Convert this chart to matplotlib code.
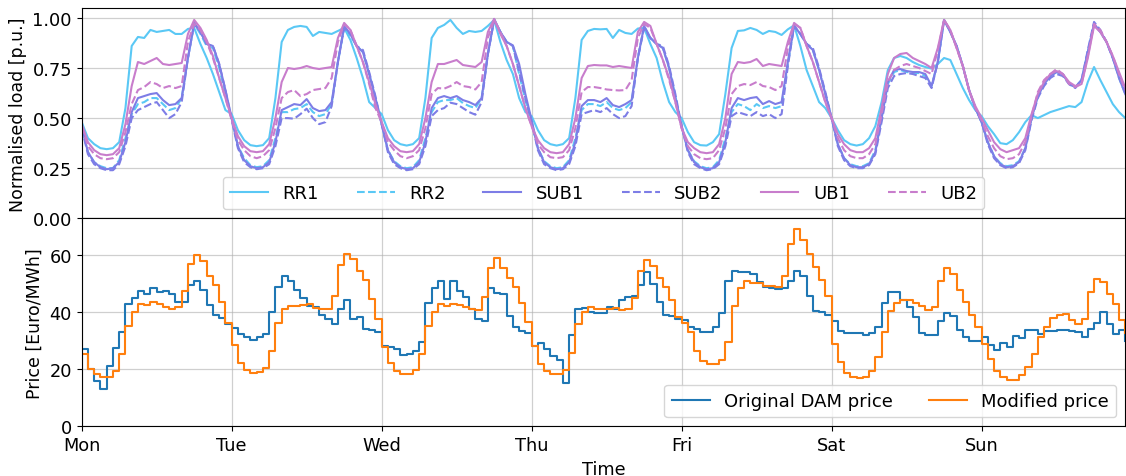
import numpy as np
import matplotlib
matplotlib.use("Agg")
import matplotlib.pyplot as plt

# ---------------- data ----------------
day_labels = ["Mon", "Tue", "Wed", "Thu", "Fri", "Sat", "Sun"]
hours = np.arange(168)

rr1 = [
    0.48,0.40,0.37,0.35,0.345,0.35,0.38,0.55,0.86,0.905,0.90,0.94,0.93,0.935,0.94,0.92,0.92,0.945,0.95,0.87,0.80,0.72,0.63,0.54,
    0.52,0.44,0.39,0.365,0.36,0.365,0.40,0.60,0.88,0.94,0.955,0.96,0.955,0.91,0.93,0.925,0.92,0.935,0.95,0.89,0.80,0.70,0.58,0.55,
    0.52,0.44,0.39,0.37,0.363,0.37,0.40,0.60,0.90,0.95,0.965,0.99,0.95,0.92,0.935,0.93,0.935,0.96,0.99,0.88,0.79,0.72,0.60,0.53,
    0.51,0.44,0.39,0.37,0.363,0.37,0.40,0.60,0.89,0.935,0.945,0.943,0.945,0.90,0.94,0.925,0.92,0.947,0.95,0.87,0.80,0.68,0.58,0.53,
    0.50,0.43,0.38,0.365,0.363,0.38,0.42,0.62,0.85,0.935,0.938,0.95,0.94,0.92,0.935,0.93,0.915,0.943,0.963,0.86,0.74,0.66,0.58,0.55,
    0.50,0.44,0.39,0.37,0.363,0.37,0.40,0.46,0.58,0.74,0.80,0.81,0.80,0.78,0.765,0.755,0.747,0.77,0.80,0.79,0.72,0.65,0.59,0.54,
    0.51,0.46,0.42,0.375,0.37,0.39,0.43,0.48,0.515,0.50,0.515,0.53,0.54,0.55,0.56,0.555,0.58,0.68,0.755,0.69,0.63,0.57,0.53,0.50,
]
rr2 = [
    0.46,0.33,0.28,0.26,0.25,0.25,0.29,0.40,0.52,0.57,0.58,0.60,0.60,0.57,0.54,0.55,0.60,0.80,0.97,0.92,0.86,0.85,0.75,0.62,
    0.50,0.36,0.30,0.265,0.255,0.26,0.29,0.40,0.53,0.53,0.545,0.55,0.57,0.53,0.51,0.52,0.57,0.78,0.95,0.91,0.86,0.83,0.72,0.60,
    0.47,0.34,0.285,0.26,0.25,0.255,0.29,0.40,0.53,0.58,0.59,0.59,0.60,0.575,0.56,0.55,0.60,0.82,0.99,0.93,0.88,0.86,0.72,0.59,
    0.48,0.35,0.285,0.26,0.25,0.255,0.29,0.40,0.54,0.57,0.57,0.56,0.58,0.55,0.54,0.55,0.58,0.80,0.96,0.90,0.87,0.85,0.75,0.61,
    0.46,0.34,0.285,0.26,0.25,0.255,0.29,0.40,0.53,0.57,0.56,0.54,0.57,0.55,0.56,0.55,0.56,0.77,0.96,0.92,0.87,0.84,0.74,0.62,
    0.50,0.37,0.30,0.27,0.26,0.26,0.275,0.34,0.50,0.67,0.73,0.74,0.73,0.725,0.725,0.71,0.66,0.78,0.99,0.93,0.86,0.76,0.64,0.55,
    0.48,0.38,0.31,0.275,0.26,0.265,0.285,0.35,0.50,0.61,0.67,0.71,0.73,0.72,0.67,0.655,0.69,0.83,0.97,0.93,0.88,0.80,0.70,0.62,
]
sub1 = [
    0.46,0.33,0.28,0.255,0.245,0.25,0.28,0.38,0.53,0.60,0.61,0.62,0.625,0.59,0.565,0.57,0.60,0.80,0.975,0.93,0.87,0.86,0.77,0.64,
    0.50,0.36,0.29,0.26,0.25,0.255,0.28,0.38,0.54,0.555,0.57,0.565,0.595,0.55,0.535,0.54,0.58,0.78,0.96,0.92,0.86,0.83,0.72,0.60,
    0.47,0.34,0.28,0.255,0.245,0.25,0.28,0.38,0.55,0.60,0.61,0.60,0.61,0.59,0.58,0.565,0.60,0.82,0.995,0.93,0.88,0.863,0.77,0.62,
    0.49,0.35,0.28,0.255,0.245,0.25,0.28,0.38,0.56,0.59,0.59,0.58,0.60,0.565,0.555,0.57,0.59,0.80,0.96,0.90,0.87,0.85,0.75,0.60,
    0.46,0.34,0.28,0.255,0.245,0.25,0.28,0.38,0.55,0.60,0.59,0.60,0.605,0.57,0.585,0.57,0.58,0.78,0.96,0.92,0.87,0.84,0.74,0.62,
    0.50,0.37,0.30,0.265,0.255,0.255,0.27,0.33,0.50,0.68,0.74,0.745,0.735,0.73,0.73,0.72,0.66,0.78,0.99,0.93,0.86,0.76,0.64,0.55,
    0.48,0.38,0.31,0.27,0.255,0.26,0.28,0.35,0.50,0.61,0.67,0.71,0.73,0.72,0.67,0.655,0.69,0.83,0.97,0.93,0.88,0.80,0.70,0.62,
]
sub2 = [
    0.45,0.32,0.27,0.25,0.24,0.24,0.27,0.36,0.50,0.54,0.555,0.57,0.58,0.54,0.50,0.52,0.58,0.80,0.97,0.93,0.87,0.86,0.77,0.64,
    0.49,0.35,0.28,0.255,0.245,0.25,0.27,0.36,0.50,0.50,0.497,0.52,0.547,0.50,0.47,0.48,0.56,0.78,0.95,0.92,0.86,0.84,0.73,0.61,
    0.47,0.33,0.27,0.25,0.24,0.245,0.27,0.36,0.51,0.54,0.55,0.577,0.57,0.55,0.53,0.517,0.58,0.82,0.99,0.93,0.88,0.86,0.73,0.60,
    0.48,0.34,0.27,0.25,0.24,0.245,0.27,0.36,0.52,0.53,0.54,0.53,0.55,0.52,0.50,0.51,0.56,0.80,0.95,0.90,0.87,0.86,0.76,0.62,
    0.46,0.33,0.27,0.25,0.24,0.245,0.27,0.36,0.51,0.53,0.52,0.51,0.53,0.51,0.52,0.50,0.52,0.76,0.96,0.92,0.87,0.85,0.75,0.63,
    0.50,0.36,0.29,0.26,0.25,0.25,0.265,0.32,0.48,0.65,0.71,0.72,0.725,0.72,0.71,0.70,0.65,0.78,0.99,0.93,0.86,0.76,0.64,0.55,
    0.48,0.37,0.30,0.265,0.25,0.255,0.275,0.34,0.49,0.60,0.66,0.70,0.72,0.71,0.67,0.65,0.69,0.84,0.98,0.94,0.88,0.80,0.71,0.63,
]
ub1 = [
    0.47,0.38,0.34,0.32,0.315,0.32,0.35,0.47,0.66,0.78,0.77,0.785,0.80,0.77,0.765,0.77,0.775,0.92,0.99,0.95,0.89,0.81,0.70,0.60,
    0.50,0.41,0.36,0.335,0.33,0.335,0.37,0.50,0.68,0.75,0.745,0.75,0.76,0.75,0.745,0.75,0.755,0.90,0.975,0.94,0.86,0.78,0.68,0.57,
    0.48,0.40,0.36,0.335,0.33,0.335,0.37,0.50,0.68,0.77,0.77,0.78,0.79,0.765,0.76,0.755,0.78,0.93,0.995,0.92,0.86,0.77,0.66,0.55,
    0.46,0.39,0.35,0.33,0.325,0.33,0.37,0.50,0.70,0.76,0.765,0.763,0.763,0.755,0.76,0.755,0.75,0.93,0.98,0.96,0.87,0.79,0.70,0.58,
    0.45,0.38,0.35,0.33,0.325,0.33,0.37,0.50,0.72,0.78,0.775,0.78,0.795,0.76,0.77,0.765,0.76,0.88,0.975,0.95,0.86,0.78,0.68,0.58,
    0.50,0.42,0.37,0.34,0.33,0.33,0.35,0.40,0.55,0.72,0.80,0.82,0.825,0.80,0.785,0.77,0.75,0.85,0.99,0.94,0.85,0.76,0.64,0.56,
    0.50,0.44,0.38,0.345,0.33,0.34,0.35,0.40,0.52,0.62,0.68,0.72,0.735,0.72,0.68,0.66,0.67,0.80,0.96,0.93,0.88,0.81,0.73,0.65,
]
ub2 = [
    0.46,0.36,0.32,0.30,0.295,0.30,0.33,0.43,0.57,0.64,0.655,0.68,0.67,0.65,0.66,0.65,0.66,0.88,0.97,0.94,0.88,0.80,0.70,0.60,
    0.49,0.39,0.34,0.31,0.30,0.31,0.34,0.45,0.60,0.63,0.64,0.61,0.62,0.64,0.645,0.65,0.70,0.88,0.97,0.94,0.86,0.78,0.67,0.55,
    0.48,0.38,0.34,0.31,0.30,0.31,0.34,0.45,0.62,0.65,0.647,0.66,0.68,0.66,0.655,0.643,0.68,0.90,0.99,0.93,0.86,0.77,0.66,0.55,
    0.46,0.37,0.33,0.305,0.30,0.305,0.34,0.45,0.63,0.655,0.655,0.65,0.643,0.64,0.638,0.64,0.69,0.90,0.97,0.95,0.87,0.79,0.69,0.58,
    0.45,0.36,0.32,0.30,0.295,0.30,0.34,0.45,0.62,0.66,0.67,0.665,0.68,0.66,0.655,0.64,0.66,0.85,0.97,0.95,0.86,0.78,0.68,0.58,
    0.50,0.40,0.34,0.31,0.30,0.30,0.32,0.37,0.52,0.68,0.74,0.76,0.77,0.76,0.75,0.735,0.72,0.84,0.99,0.94,0.85,0.76,0.64,0.55,
    0.49,0.41,0.35,0.31,0.295,0.30,0.32,0.38,0.51,0.63,0.69,0.72,0.745,0.72,0.67,0.655,0.67,0.81,0.97,0.94,0.88,0.81,0.72,0.64,
]

price_original = [
    27.1,20,16,13,21.3,27.6,33,43,45,47.6,46.5,48.4,47,47.5,46.5,43.8,43.8,49.5,51,48,42.7,39,38,36,
    34.4,32.5,31.5,30.3,31.3,32.5,40,49,52.7,50.9,48,45,42.2,41.8,39,37.8,35.8,41,44.4,37.6,38.3,34,33.7,33,
    28.3,28,27.1,25.1,25.4,26.6,29.6,43.3,48.7,51,44.8,51,47.4,45.3,41,37.8,37.1,48.6,46.8,46.5,38.6,35,33.6,32.9,
    28.3,29.4,27.3,24.8,23.4,15.1,32.1,41,41.5,40.1,39.8,39.8,41.9,41,44.2,45.3,45.6,49.6,54,49.9,43.6,39,38.6,37.5,
    37.3,35,34,33,33,35,39.9,51,54.6,54.3,54,53.4,50.5,49,48.4,48.2,48.4,51,54.6,52.6,45.9,40.4,40.1,39,
    36.9,33.6,32.9,32.6,32.6,32.1,32.9,34.7,43.4,47.3,47.1,44.2,41.9,38.2,32.6,32.1,32.1,37,39.6,38.6,33.8,31.5,30,30,
    31.5,28.6,26.7,29.2,27.7,31.8,31,33.9,33.9,32.3,33.3,33.3,33.9,33.9,33.6,33,31.2,34.1,36.2,40,35.8,32.5,33.9,29.8,
]
price_modified = [
    25.3,20,18.2,17.4,17.4,19.3,25.4,35.2,40.1,43,42.6,43.5,43,42,41.2,41.8,47.4,57.1,60,58,52.8,49.7,43.8,36.1,
    28.4,22.3,19.6,18.7,19,20.4,26.3,36.3,41,42.1,42.1,42.6,43,41.6,41,41,45.9,56.6,60.6,58.6,54.6,51.2,44.8,37.8,
    28,22.3,19.4,18.2,18.2,19.6,25.5,35.3,40.1,42.8,42.1,42.9,42.7,42,41.3,40.8,45.3,55.7,58.9,55.7,52.2,48.8,43.4,36.6,
    28.3,22,19.4,18.5,18.2,19.7,25.7,36,40.1,41.8,41.3,41.3,41.3,41.5,40.7,41.3,45.1,54.6,58.2,56.3,52.2,48.8,44.4,38.4,
    36.1,33.2,26.3,22.8,21.7,21.7,23.4,29.5,42.2,48.4,51,50.2,50.2,49.4,49.1,48.8,52.6,64.1,69.2,65.5,60.3,55.9,51.3,45.7,
    28.8,22.5,18.8,17.3,17.1,17.3,19.4,24.2,33.2,40.4,43.3,44.5,44.2,43.4,42.2,40.9,41.8,51,55.7,53.4,48,43.8,39.2,34.8,
    28.8,23.5,19.5,17.4,16.4,16.3,18,20.9,25.4,31.2,35,37.9,39.1,39.4,37.3,35.8,37.7,47.2,51.8,50.7,46.6,42.8,37.3,32.7,
]

load_series = {
    "RR1": (rr1, "#5ac8f5", "-"),
    "RR2": (rr2, "#5ac8f5", "--"),
    "SUB1": (sub1, "#7d7de6", "-"),
    "SUB2": (sub2, "#7d7de6", "--"),
    "UB1": (ub1, "#c87dcc", "-"),
    "UB2": (ub2, "#c87dcc", "--"),
}

# ---------------- figure ----------------
FS = 12.8
plt.rcParams["font.family"] = ["DejaVu Sans"]
plt.rcParams["font.size"] = FS

fig = plt.figure(figsize=(11.26, 4.77), dpi=100)
left = 81.7 / 1126
right = 1125.3 / 1126
ax1 = fig.add_axes([left, 1 - 219.3 / 477, right - left, (219.3 - 9.3) / 477])
ax2 = fig.add_axes([left, 1 - 427.3 / 477, right - left, (427.3 - 219.3) / 477], sharex=ax1)

for name, (vals, col, ls) in load_series.items():
    ax1.plot(hours, vals, color=col, ls=ls, lw=1.5, label=name)

ax1.set_ylim(0, 1.048)
ax1.set_yticks([0, 0.25, 0.5, 0.75, 1.0])
ax1.set_yticklabels(["0.00", "0.25", "0.50", "0.75", "1.00"])
ax1.set_ylabel("Normalised load [p.u.]", fontsize=12.5)
ax1.grid(True, color="#b0b0b0", alpha=0.6, lw=0.9)
ax1.tick_params(labelbottom=False, labelsize=FS)
ax1.legend(loc="lower center", ncol=6, fontsize=13, handlelength=2.1,
           columnspacing=2.1, borderaxespad=0.5)

ax2.step(hours, price_original, where="post", color="#1f77b4", lw=1.5, label="Original DAM price")
ax2.step(hours, price_modified, where="post", color="#ff7f0e", lw=1.5, label="Modified price")
ax2.set_ylim(0, 73)
ax2.set_yticks([0, 20, 40, 60])
ax2.set_ylabel("Price [Euro/MWh]", fontsize=12.5)
ax2.grid(True, color="#b0b0b0", alpha=0.6, lw=0.9)
ax2.legend(loc="lower right", ncol=2, fontsize=13, handlelength=2.1, columnspacing=2.0)
ax2.set_xlim(0, 167)
ax2.set_xticks(np.arange(0, 168, 24))
ax2.set_xticklabels(day_labels)
ax2.tick_params(labelsize=FS)
ax2.set_xlabel("Time", fontsize=FS)

fig.savefig("out.png", dpi=100)
